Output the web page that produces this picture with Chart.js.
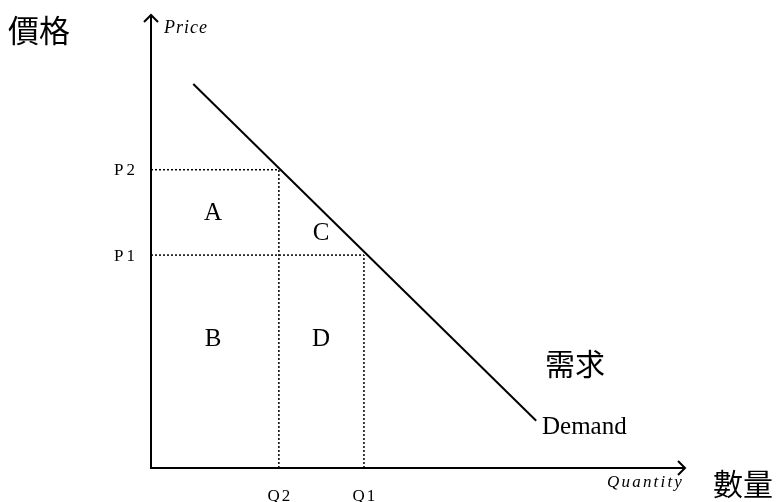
<!DOCTYPE html>
<html>
<head>
<meta charset="utf-8">
<script src="https://cdn.jsdelivr.net/npm/chart.js@4"></script>
<style>
html,body{margin:0;padding:0;background:#fff;}
#wrap{width:777px;height:502px;position:relative;}
</style>
</head>
<body>
<div id="wrap"><canvas id="c" width="777" height="502"></canvas></div>
<script>
// Price levels and quantities (axis units 0..100)
const priceLabels = ["P2", "P1"];
const priceValues = [65.7, 46.9];
const quantityLabels = ["Q2", "Q1"];
const quantityValues = [23.9, 39.8];
// Demand curve endpoints
const demandX = [7.9, 72.0];
const demandY = [84.6, 10.4];
// Region labels and their centres
const regionLabels = ["A", "B", "C", "D"];
const regionX = [11.6, 11.6, 31.8, 31.8];
const regionY = [56.2, 28.6, 51.8, 28.6];

const demandData = demandX.map((x, i) => ({x: x, y: demandY[i]}));
const dotted = {borderColor: '#000', borderWidth: 1.5, borderDash: [2, 2], pointRadius: 0, showLine: true, fill: false};
const guideSets = [
  Object.assign({data: [{x: 0, y: priceValues[0]}, {x: quantityValues[0], y: priceValues[0]}]}, dotted),
  Object.assign({data: [{x: 0, y: priceValues[1]}, {x: quantityValues[1], y: priceValues[1]}]}, dotted),
  Object.assign({data: [{x: quantityValues[0], y: 0}, {x: quantityValues[0], y: priceValues[0]}]}, dotted),
  Object.assign({data: [{x: quantityValues[1], y: 0}, {x: quantityValues[1], y: priceValues[1]}]}, dotted)
];

const serif = '"Liberation Serif", "Times New Roman", serif';
const cjk = '"Noto Sans CJK TC", "Noto Sans CJK SC", sans-serif';

const decor = {
  id: 'decor',
  afterDatasetsDraw(chart) {
    const ctx = chart.ctx;
    const xs = chart.scales.x, ys = chart.scales.y;
    const x0 = xs.getPixelForValue(0), y0 = ys.getPixelForValue(0);
    const xEnd = xs.getPixelForValue(100), yTop = ys.getPixelForValue(100);
    ctx.save();
    ctx.strokeStyle = '#000';
    ctx.lineWidth = 2;
    ctx.lineCap = 'butt';
    // axes
    ctx.beginPath();
    ctx.moveTo(x0, y0 + 1); ctx.lineTo(x0, yTop + 1);
    ctx.moveTo(x0 - 1, y0); ctx.lineTo(xEnd - 1, y0);
    ctx.stroke();
    // arrow heads
    ctx.beginPath();
    ctx.moveTo(x0 - 7, yTop + 8); ctx.lineTo(x0, yTop + 1); ctx.lineTo(x0 + 7, yTop + 8);
    ctx.moveTo(xEnd - 8, y0 - 7); ctx.lineTo(xEnd - 1, y0); ctx.lineTo(xEnd - 8, y0 + 7);
    ctx.stroke();

    ctx.fillStyle = '#000';
    ctx.textBaseline = 'middle';
    // price tick labels
    ctx.font = '17px ' + serif;
    ctx.letterSpacing = '3px';
    ctx.textAlign = 'right';
    priceLabels.forEach((t, i) => ctx.fillText(t, x0 - 13, ys.getPixelForValue(priceValues[i]) + 1));
    // quantity tick labels
    ctx.textAlign = 'center';
    ctx.letterSpacing = '2px';
    quantityLabels.forEach((t, i) => ctx.fillText(t, xs.getPixelForValue(quantityValues[i]) + 1, y0 + 29));
    // region labels
    ctx.font = '25px ' + serif;
    ctx.letterSpacing = '0px';
    regionLabels.forEach((t, i) => ctx.fillText(t, xs.getPixelForValue(regionX[i]), ys.getPixelForValue(regionY[i]) + 1));
    // Demand label
    ctx.textAlign = 'left';
    ctx.fillText('Demand', 542, 427);
    // axis titles
    ctx.font = 'italic 18px ' + serif;
    ctx.letterSpacing = '1px';
    ctx.textBaseline = 'alphabetic';
    ctx.fillText('Price', 164, 33);
    ctx.font = 'italic 17px ' + serif;
    ctx.letterSpacing = '2.2px';
    ctx.fillText('Quantity', 607, 487);
    // Chinese labels
    ctx.letterSpacing = '0px';
    ctx.textBaseline = 'middle';
    ctx.font = '31px ' + cjk;
    ctx.fillText('價格', 8, 30);
    ctx.font = '30px ' + cjk;
    ctx.fillText('需求', 545, 364);
    ctx.fillText('數量', 713, 484);
    ctx.restore();
  }
};

new Chart(document.getElementById('c'), {
  type: 'scatter',
  data: {
    datasets: [
      {data: demandData, borderColor: '#000', borderWidth: 2, pointRadius: 0, showLine: true, fill: false}
    ].concat(guideSets)
  },
  options: {
    responsive: false,
    animation: false,
    events: [],
    layout: {padding: {left: 151, right: 91, top: 14, bottom: 34}},
    plugins: {legend: {display: false}, tooltip: {enabled: false}, title: {display: false}},
    scales: {
      x: {type: 'linear', min: 0, max: 100, display: false},
      y: {type: 'linear', min: 0, max: 100, display: false}
    }
  },
  plugins: [decor]
});
</script>
</body>
</html>
